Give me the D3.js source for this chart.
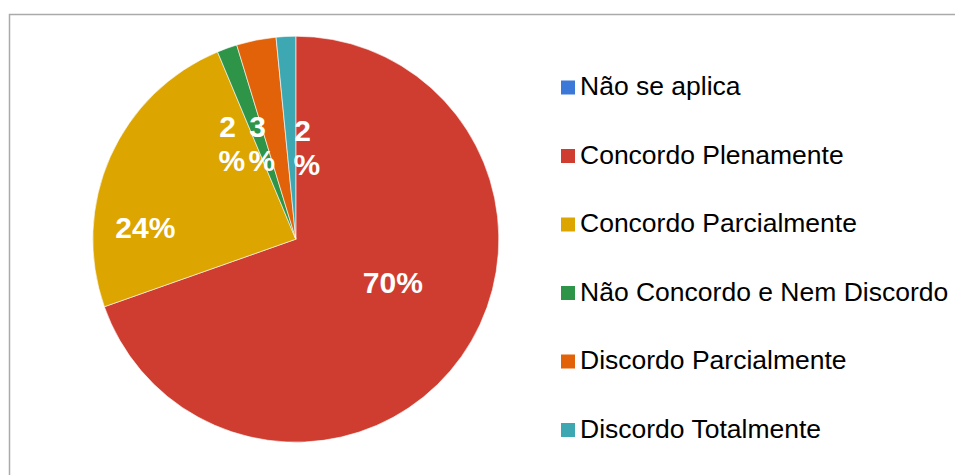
<!DOCTYPE html>
<html>
<head>
<meta charset="utf-8">
<script src="https://cdn.jsdelivr.net/npm/d3@7"></script>
<style>
  html, body { margin: 0; padding: 0; background: #fff; }
  svg { display: block; font-family: "Liberation Sans", Arial, sans-serif; }
</style>
</head>
<body>
<svg id="chart" width="955" height="475"></svg>
<script>
// Survey responses (share of answers, %)
const categories = [
  "Não se aplica",
  "Concordo Plenamente",
  "Concordo Parcialmente",
  "Não Concordo e Nem Discordo",
  "Discordo Parcialmente",
  "Discordo Totalmente"
];
const values = [0, 69.6, 24.1, 1.6, 3.15, 1.55];
const colors = ["#3c78d8", "#cf3d30", "#dca500", "#2e9548", "#e2620a", "#3ea8b2"];

const svg = d3.select("#chart");

// outer frame
svg.append("rect")
  .attr("x", 9.5).attr("y", 14.5)
  .attr("width", 980).attr("height", 500)
  .attr("fill", "none")
  .attr("stroke", "#aaaaaa")
  .attr("stroke-width", 1.5);

const cx = 295.8, cy = 239.2, radius = 203;
const total = d3.sum(values);

const pie = d3.pie().sort(null).value(d => d)(values);
const arc = d3.arc().innerRadius(0).outerRadius(radius);

const g = svg.append("g").attr("transform", `translate(${cx},${cy})`);

g.selectAll("path")
  .data(pie)
  .join("path")
  .attr("d", arc)
  .attr("fill", (d, i) => colors[i])
  .attr("stroke", "#ffffff")
  .attr("stroke-width", d => d.value > 0 ? 0.6 : 0);

// data labels: offset of each label from the pie centre, and whether it wraps
const fmt = d3.format(".0%");
const labelLayout = [
  null,
  { dx: 97, dy: 53.5, wrap: false },
  { dx: -150.5, dy: -1.5, wrap: false },
  { dx: -64, dy: -102, wrap: true },
  { dx: -34, dy: -102, wrap: true },
  { dx: 11, dy: -98, wrap: true }
];

pie.forEach((d, i) => {
  const lay = labelLayout[i];
  if (!lay || d.value <= 0) return;
  const txt = fmt(d.value / total);
  const t = g.append("text")
    .attr("x", lay.dx).attr("y", lay.dy)
    .attr("text-anchor", "middle")
    .attr("fill", "#ffffff")
    .attr("font-weight", "bold")
    .attr("font-size", 30);
  if (lay.wrap) {
    const num = txt.replace("%", "");
    t.append("tspan").attr("x", lay.dx).attr("y", lay.dy).text(num + "\u00a0");
    t.append("tspan").attr("x", lay.dx).attr("y", lay.dy + 34).text("%");
  } else {
    t.text(txt);
  }
});

// legend
const legendY = d3.scalePoint().domain(categories).range([87.5, 430]);
const legend = svg.append("g");
const item = legend.selectAll("g")
  .data(categories)
  .join("g")
  .attr("transform", d => `translate(561,${legendY(d)})`);

item.append("rect")
  .attr("x", 0).attr("y", -7)
  .attr("width", 14).attr("height", 14)
  .attr("fill", (d, i) => colors[i]);

item.append("text")
  .attr("x", 19).attr("y", 7.5)
  .attr("font-size", 26.5)
  .attr("fill", "#000000")
  .text(d => d);
</script>
</body>
</html>
